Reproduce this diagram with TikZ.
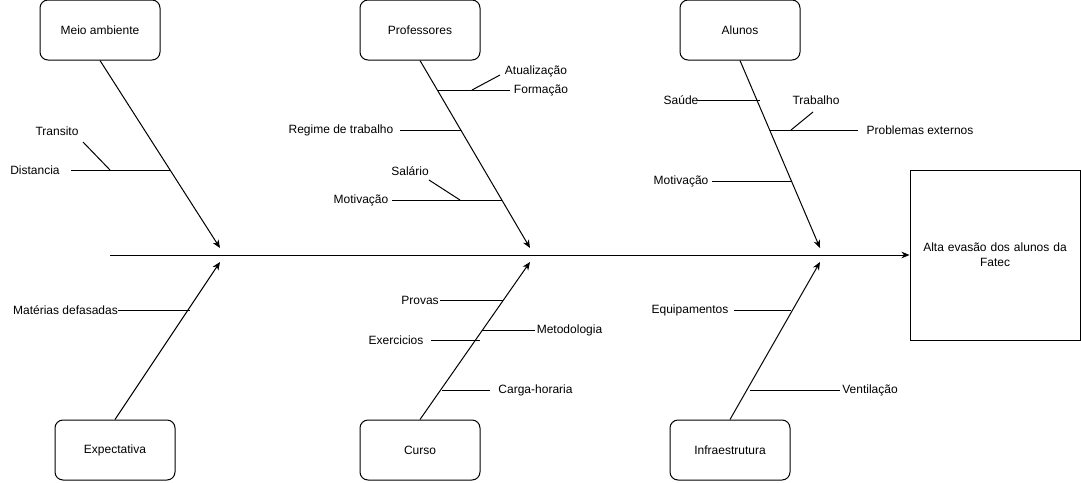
\documentclass[tikz,border=0pt]{standalone}
\usepackage{fontspec}
\setmainfont{Liberation Sans}
\usetikzlibrary{arrows.meta}
\begin{document}
\begin{tikzpicture}[x=0.75pt,y=-0.75pt,
  every node/.style={font=\fontsize{9}{11}\selectfont, inner sep=0pt},
  cause/.style={draw, rounded corners=6pt, minimum width=90pt, minimum height=45pt, line width=0.75pt},
  effect/.style={draw, minimum width=127.5pt, minimum height=127.5pt, line width=0.75pt, align=center, text width=120pt},
  lbl/.style={},
  bone/.style={line width=0.75pt, -{Stealth[length=6pt,width=5pt,inset=1.8pt]}},
  twig/.style={line width=0.75pt}]
\useasboundingbox (0,0) rectangle (1081,482);
% cause boxes
\node[cause] (ma) at (100,30) {Meio ambiente};
\node[cause] (pr) at (420,30) {Professores};
\node[cause] (al) at (740,30) {Alunos};
\node[cause] (ex) at (115,450) {Expectativa};
\node[cause] (cu) at (420,450) {Curso};
\node[cause] (in) at (730,450) {Infraestrutura};
\node[effect] (ef) at (995,255) {Alta evasão dos alunos da\\Fatec};
% spine
\coordinate (sp0) at (110,255);
\draw[bone] (sp0) -- (ef.west |- sp0);
% tips
\coordinate (tMA) at (220,248);
\coordinate (tPR) at (530,248);
\coordinate (tAL) at (820,248);
\coordinate (tEX) at (220,262);
\coordinate (tCU) at (530,262);
\coordinate (tIN) at (820,262);
\draw[bone] (ma.south) -- (tMA);
\draw[bone] (pr.south) -- (tPR);
\draw[bone] (al.south) -- (tAL);
\draw[bone] (ex.north) -- (tEX);
\draw[bone] (cu.north) -- (tCU);
\draw[bone] (in.north) -- (tIN);
% Meio ambiente
\node[lbl] (lTransito) at (57,131) {Transito};
\node[lbl] (lDistancia) at (35,170) {Distancia};
\coordinate (a1) at (83,142); \coordinate (a2) at (110,170);
\coordinate (b1) at (71,170); \coordinate (b2) at (170,170);
\draw[twig] (a1) -- (a2);
\draw[twig] (b1) -- (b2);
% Professores
\node[lbl] (lAtual) at (536,71) {Atualização};
\node[lbl] (lForm) at (541,90) {Formação};
\node[lbl] (lRegime) at (341,130) {Regime de trabalho};
\node[lbl] (lSal) at (410,171) {Salário};
\node[lbl] (lMotP) at (361,200) {Motivação};
\coordinate (c1) at (472,90); \coordinate (c2) at (500,75);
\coordinate (d1) at (438,90); \coordinate (d2) at (510,90);
\coordinate (e1) at (400,130); \coordinate (e2) at (461,130);
\coordinate (f1) at (429,180); \coordinate (f2) at (460,200);
\coordinate (g1) at (392,200); \coordinate (g2) at (502,200);
\draw[twig] (c1) -- (c2);
\draw[twig] (d1) -- (d2);
\draw[twig] (e1) -- (e2);
\draw[twig] (f1) -- (f2);
\draw[twig] (g1) -- (g2);
% Alunos
\node[lbl] (lSaude) at (681,100) {Saúde};
\node[lbl] (lTrab) at (816,100) {Trabalho};
\node[lbl] (lProb) at (920,130) {Problemas externos};
\node[lbl] (lMotA) at (681,181) {Motivação};
\coordinate (h1) at (697,100); \coordinate (h2) at (760,100);
\coordinate (i1) at (791,130); \coordinate (i2) at (813,112);
\coordinate (j1) at (770,130); \coordinate (j2) at (858,130);
\coordinate (k1) at (712,181); \coordinate (k2) at (791,181);
\draw[twig] (h1) -- (h2);
\draw[twig] (i1) -- (i2);
\draw[twig] (j1) -- (j2);
\draw[twig] (k1) -- (k2);
% Expectativa
\node[lbl] (lMat) at (65.5,310) {Matérias defasadas};
\coordinate (m1) at (118,310); \coordinate (m2) at (190,310);
\draw[twig] (m1) -- (m2);
% Curso
\node[lbl] (lProv) at (420,300) {Provas};
\node[lbl] (lMet) at (569.5,330) {Metodologia};
\node[lbl] (lExe) at (396,340) {Exercicios};
\node[lbl] (lCarga) at (535.5,390) {Carga-horaria};
\coordinate (n1) at (440,300); \coordinate (n2) at (503,300);
\coordinate (o1) at (482,330); \coordinate (o2) at (535,330);
\coordinate (p1) at (431,340); \coordinate (p2) at (480,340);
\coordinate (q1) at (442,390); \coordinate (q2) at (490,390);
\draw[twig] (n1) -- (n2);
\draw[twig] (o1) -- (o2);
\draw[twig] (p1) -- (p2);
\draw[twig] (q1) -- (q2);
% Infraestrutura
\node[lbl] (lEquip) at (690,310) {Equipamentos};
\node[lbl] (lVent) at (870,390) {Ventilação};
\coordinate (r1) at (734,310); \coordinate (r2) at (791,310);
\coordinate (s1) at (750,390); \coordinate (s2) at (840,390);
\draw[twig] (r1) -- (r2);
\draw[twig] (s1) -- (s2);
\end{tikzpicture}
\end{document}
